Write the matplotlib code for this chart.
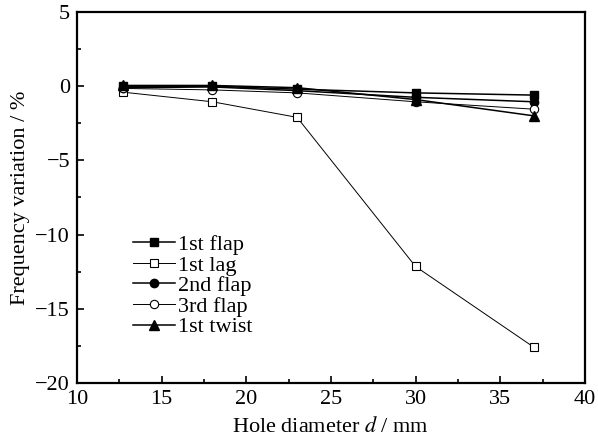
import matplotlib
matplotlib.use('Agg')
import matplotlib.pyplot as plt
from matplotlib.ticker import MultipleLocator

plt.rcParams['font.family'] = 'Liberation Serif'
plt.rcParams['mathtext.fontset'] = 'stix'
plt.rcParams['font.size'] = 16

diameter = [12.7, 18, 23, 30, 37]
flap1 = [0.0, 0.0, -0.2, -0.45, -0.6]
lag1 = [-0.4, -1.05, -2.1, -12.15, -17.6]
flap2 = [-0.1, -0.05, -0.3, -0.75, -1.05]
flap3 = [-0.15, -0.25, -0.45, -1.05, -1.55]
twist1 = [0.05, 0.05, -0.1, -0.9, -2.0]

fig = plt.figure(figsize=(5.98, 4.38), dpi=100)
ax = fig.add_axes([0.1288, 0.1256, 0.8492, 0.847])

ax.plot(diameter, flap1, '-s', color='black', lw=1.1, ms=6, mfc='black', label='1st flap')
ax.plot(diameter, lag1, '-s', color='black', lw=0.7, ms=6, mfc='white', mew=0.8, label='1st lag')
ax.plot(diameter, flap2, '-o', color='black', lw=1.1, ms=6, mfc='black', label='2nd flap')
ax.plot(diameter, flap3, '-o', color='black', lw=0.7, ms=6, mfc='white', mew=0.8, label='3rd flap')
ax.plot(diameter, twist1, '-^', color='black', lw=1.1, ms=6.5, mfc='black', label='1st twist')

ax.set_xlim(10, 40)
ax.set_ylim(-20, 5)
ax.xaxis.set_major_locator(MultipleLocator(5))
ax.xaxis.set_minor_locator(MultipleLocator(2.5))
ax.yaxis.set_major_locator(MultipleLocator(5))
ax.yaxis.set_minor_locator(MultipleLocator(2.5))
ax.tick_params(which='both', direction='in', top=False, right=False, width=1.2)
ax.tick_params(which='major', length=5, pad=5)
ax.tick_params(which='minor', length=3)
for s in ax.spines.values():
    s.set_linewidth(1.6)

ax.set_xlabel('Hole diameter $d$ / mm', labelpad=6)
ax.set_ylabel('Frequency variation / %', labelpad=4)

ax.legend(loc='upper left', bbox_to_anchor=(0.11, 0.40), frameon=False,
          handlelength=1.9, handletextpad=0.15, labelspacing=0.0,
          borderaxespad=0, borderpad=0)

fig.savefig('out.png', dpi=100)
